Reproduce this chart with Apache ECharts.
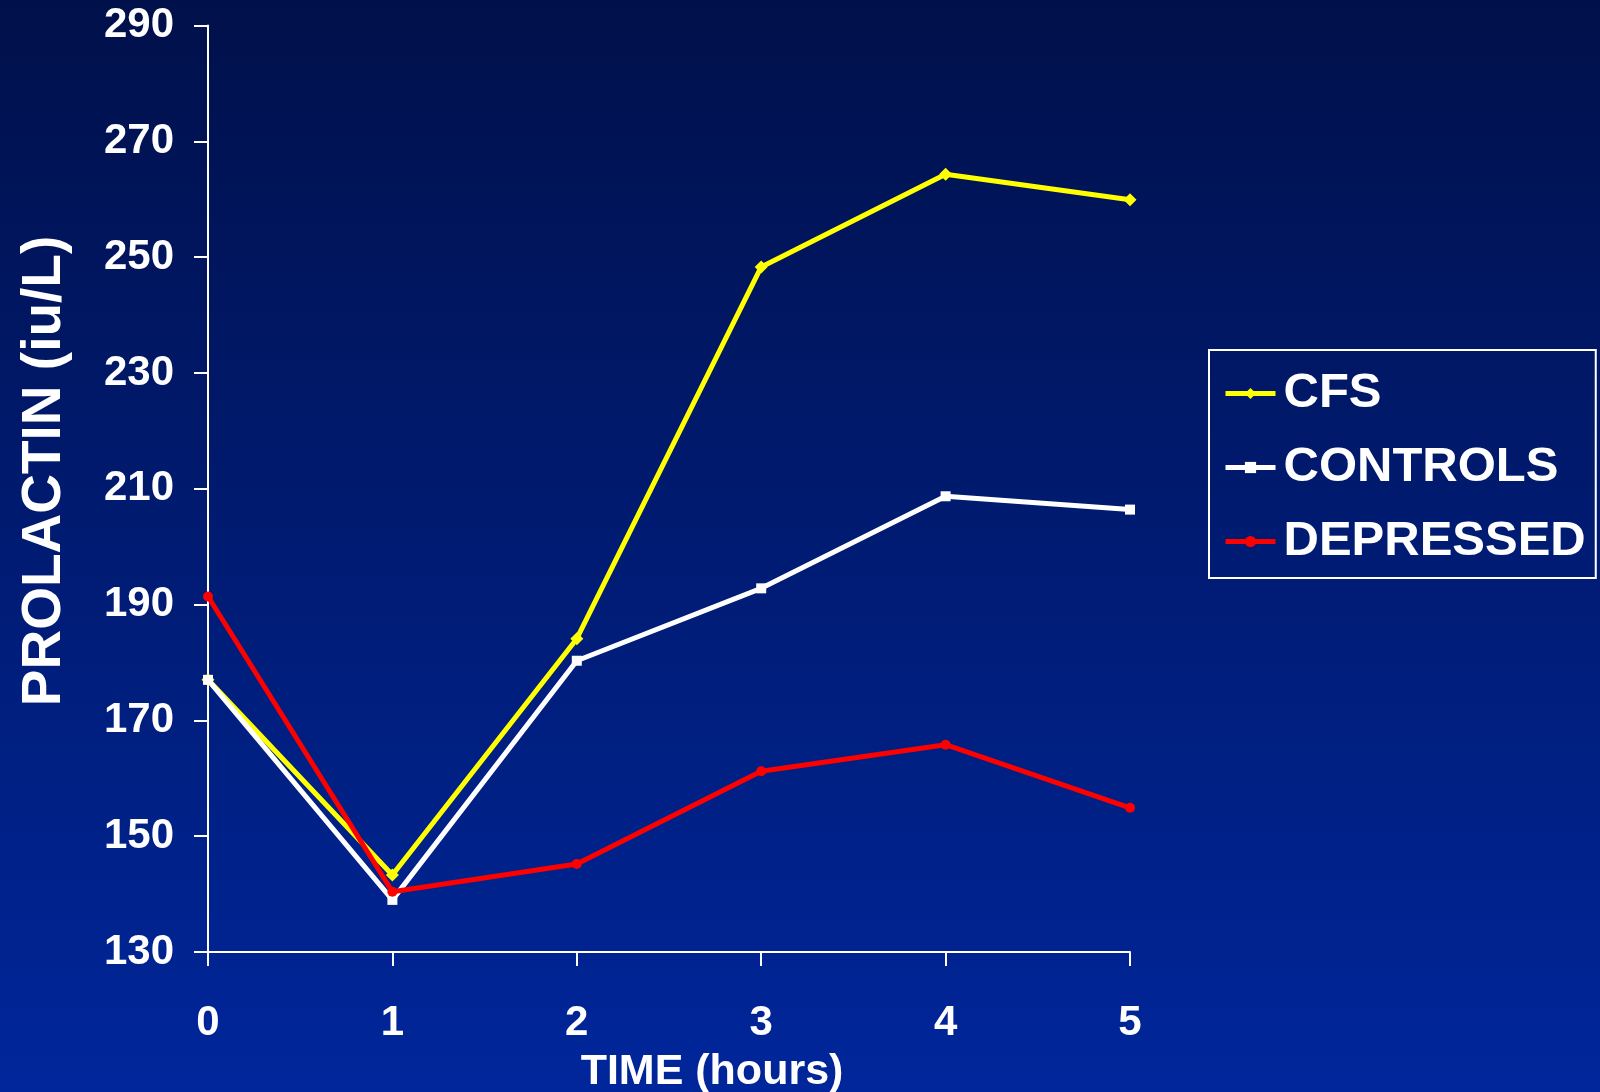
<!DOCTYPE html>
<html>
<head>
<meta charset="utf-8">
<title>Prolactin response over time</title>
<script src="https://cdn.jsdelivr.net/npm/echarts@6/dist/echarts.min.js"></script>
<style>
  html, body { margin: 0; padding: 0; width: 1600px; height: 1092px; overflow: hidden; }
  #chart { width: 1600px; height: 1092px; }
</style>
</head>
<body>
<div id="chart"></div>
<script>
// Sampling times (hours)
const hours = ['0', '1', '2', '3', '4', '5'];

// Mean prolactin (iu/L) per group
const cfs       = [177.0, 143.3, 184.1, 248.3, 264.3, 259.9];
const controls  = [177.0, 139.0, 180.3, 192.8, 208.7, 206.4];
const depressed = [191.4, 140.4, 145.2, 161.2, 165.8, 154.9];

// Y axis range
const yMin = 130, yMax = 290, yStep = 20;

const FONT = '"Liberation Sans", Arial, sans-serif';
const chart = echarts.init(document.getElementById('chart'), null, { renderer: 'canvas' });

chart.setOption({
  animation: false,
  backgroundColor: {
    type: 'linear', x: 0, y: 0, x2: 0, y2: 1,
    colorStops: [
      { offset: 0, color: '#00104a' },
      { offset: 1, color: '#00269b' }
    ]
  },
  grid: { left: 208, right: 470, top: 25.5, bottom: 140 },
  legend: {
    orient: 'vertical',
    left: 1209, top: 350,
    padding: [19, 10, 12, 14],
    itemWidth: 50, itemHeight: 14, itemGap: 25,
    borderColor: '#ffffff', borderWidth: 2,
    lineStyle: { width: 5 },
    textStyle: { color: '#ffffff', fontFamily: FONT, fontWeight: 'bold', fontSize: 49, padding: [0, 0, 0, 3] },
    data: ['CFS', 'CONTROLS', 'DEPRESSED']
  },
  xAxis: {
    type: 'category',
    data: hours,
    boundaryGap: false,
    axisLine: { lineStyle: { color: '#ffffff', width: 2 } },
    axisTick: { inside: false, length: 14, lineStyle: { color: '#ffffff', width: 2 } },
    axisLabel: { color: '#ffffff', fontFamily: FONT, fontWeight: 'bold', fontSize: 42, margin: 50 },
    splitLine: { show: false }
  },
  yAxis: {
    type: 'value',
    min: yMin, max: yMax, interval: yStep,
    axisLine: { show: true, lineStyle: { color: '#ffffff', width: 2 } },
    axisTick: { show: true, inside: false, length: 14, lineStyle: { color: '#ffffff', width: 2 } },
    axisLabel: { color: '#ffffff', fontFamily: FONT, fontWeight: 'bold', fontSize: 42, margin: 34 },
    splitLine: { show: false }
  },
  graphic: [
    {
      type: 'text', x: 45, y: 471, rotation: Math.PI / 2,
      style: { text: 'PROLACTIN (iu/L)', fill: '#ffffff', font: 'bold 55px ' + FONT, align: 'center', verticalAlign: 'middle' }
    },
    {
      type: 'text', x: 712, y: 1072,
      style: { text: 'TIME (hours)', fill: '#ffffff', font: 'bold 43px ' + FONT, align: 'center', verticalAlign: 'middle' }
    }
  ],
  series: [
    {
      name: 'CFS', type: 'line', data: cfs,
      symbol: 'diamond', symbolSize: 13, showAllSymbol: true,
      lineStyle: { color: '#ffff00', width: 5 },
      itemStyle: { color: '#ffff00' }
    },
    {
      name: 'CONTROLS', type: 'line', data: controls,
      symbol: 'rect', symbolSize: 10,
      lineStyle: { color: '#ffffff', width: 5 },
      itemStyle: { color: '#ffffff' }
    },
    {
      name: 'DEPRESSED', type: 'line', data: depressed,
      symbol: 'circle', symbolSize: 10,
      lineStyle: { color: '#ff0000', width: 5 },
      itemStyle: { color: '#ff0000' }
    }
  ]
});
</script>
</body>
</html>
